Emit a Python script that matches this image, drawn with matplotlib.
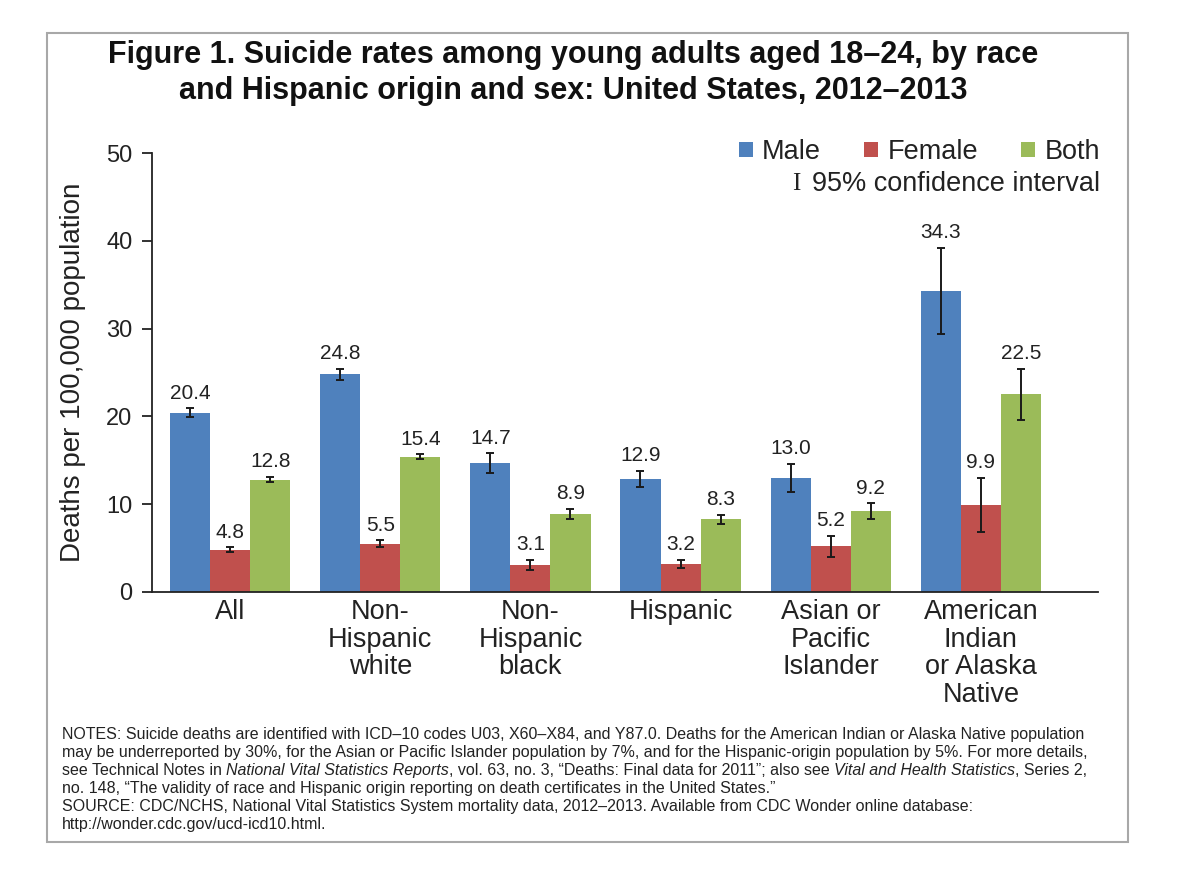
import numpy as np
import matplotlib
matplotlib.use("Agg")
import matplotlib.pyplot as plt
from matplotlib.patches import Rectangle

plt.rcParams['font.family'] = ['Liberation Sans', 'DejaVu Sans']

# data
groups = ['All', 'Non-\nHispanic\nwhite', 'Non-\nHispanic\nblack', 'Hispanic',
          'Asian or\nPacific\nIslander', 'American\nIndian\nor Alaska\nNative']
male = [20.4, 24.8, 14.7, 12.9, 13.0, 34.3]
female = [4.8, 5.5, 3.1, 3.2, 5.2, 9.9]
both = [12.8, 15.4, 8.9, 8.3, 9.2, 22.5]
# half widths of the 95% confidence intervals
male_ci = [0.5, 0.6, 1.1, 0.9, 1.6, 4.9]
female_ci = [0.3, 0.4, 0.6, 0.5, 1.2, 3.1]
both_ci = [0.3, 0.3, 0.6, 0.5, 0.9, 2.9]
series_names = ['Male', 'Female', 'Both']
colors = ['#4F81BD', '#C0504D', '#9BBB59']

title = ('Figure 1. Suicide rates among young adults aged 18\u201324, by race\n'
         'and Hispanic origin and sex: United States, 2012\u20132013')
ylabel = 'Deaths per 100,000 population'

notes = [
    [('NOTES: Suicide deaths are identified with ICD\u201310 codes U03, X60\u2013X84, and Y87.0. '
      'Deaths for the American Indian or Alaska Native population', 'normal')],
    [('may be underreported by 30%, for the Asian or Pacific Islander population by 7%, '
      'and for the Hispanic-origin population by 5%. For more details,', 'normal')],
    [('see Technical Notes in ', 'normal'),
     ('National Vital Statistics Reports', 'italic'),
     (', vol. 63, no. 3, \u201cDeaths: Final data for 2011\u201d; also see ', 'normal'),
     ('Vital and Health Statistics', 'italic'),
     (', Series 2,', 'normal')],
    [('no. 148, \u201cThe validity of race and Hispanic origin reporting on death '
      'certificates in the United States.\u201d', 'normal')],
    [('SOURCE: CDC/NCHS, National Vital Statistics System mortality data, 2012\u20132013. '
      'Available from CDC Wonder online database:', 'normal')],
    [('http://wonder.cdc.gov/ucd-icd10.html.', 'normal')],
]


def main():
    W, H = 1200, 889
    fig = plt.figure(figsize=(W / 100, H / 100), dpi=100)
    ax = fig.add_axes([152 / W, 1 - 592 / H, (1098 - 152) / W, (592 - 153) / H])
    txt_col = '#222222'

    x = np.arange(len(groups))
    width = 0.267
    all_series = [(male, male_ci), (female, female_ci), (both, both_ci)]
    handles = []
    for k, (vals, ci) in enumerate(all_series):
        pos = x + (k - 1) * width
        b = ax.bar(pos, vals, width, color=colors[k], label=series_names[k],
                   edgecolor='none', zorder=2)
        handles.append(b)
        ax.errorbar(pos, vals, yerr=ci, fmt='none', ecolor='#1a1a1a',
                    elinewidth=1.4, capsize=3.2, capthick=1.4, zorder=3)
        for px, v, e in zip(pos, vals, ci):
            ax.annotate(f'{v:.1f}', (px, v + e), xytext=(0, 4),
                        textcoords='offset points', ha='center', va='bottom',
                        fontsize=15, color=txt_col)

    ax.set_xlim(-0.52, 5.78)
    ax.set_ylim(0, 50)
    ax.set_yticks(range(0, 51, 10))
    ax.set_xticks(x)
    ax.set_xticklabels(groups, fontsize=19.5, linespacing=1.08, color=txt_col)
    ax.tick_params(axis='x', length=0, pad=5)
    ax.tick_params(axis='y', direction='out', length=7, width=1.3, pad=7,
                   labelsize=17, colors=txt_col)
    for s in ['top', 'right']:
        ax.spines[s].set_visible(False)
    for s in ['left', 'bottom']:
        ax.spines[s].set_linewidth(1.3)
        ax.spines[s].set_color(txt_col)

    fig.text(73 / W, 1 - 372.5 / H, ylabel, rotation=90, ha='center',
             va='center', fontsize=20, color=txt_col)

    fig.text(573 / W, 1 - 73 / H, title, ha='center', va='center',
             fontsize=22, fontweight='bold', linespacing=1.3, color='#111111')

    fig.legend(handles=handles, labels=series_names, loc='center right',
               bbox_to_anchor=(1100 / W, 1 - 152 / H), ncol=3, frameon=False,
               fontsize=19.5, handlelength=0.5, handleheight=0.5,
               handletextpad=0.35, columnspacing=1.6, borderpad=0,
               borderaxespad=0, labelcolor=txt_col)
    ci_txt = fig.text(1100 / W, 1 - 184 / H, '95% confidence interval',
                      ha='right', va='center', fontsize=19.5, color=txt_col)
    ax.annotate('I', xy=(0, 0.5), xycoords=ci_txt, xytext=(-8, 0),
                textcoords='offset points', ha='right', va='center',
                fontsize=18, family='Liberation Serif', color=txt_col)

    # notes block, italic titles chained after the preceding piece
    fs = 11.5
    y0 = 742
    step = 18
    for i, segs in enumerate(notes):
        yy = 1 - (y0 + i * step) / H
        last = None
        for txt, style in segs:
            if last is None:
                last = fig.text(62 / W, yy, txt, ha='left', va='bottom',
                                fontsize=fs, style=style, color=txt_col)
            else:
                last = ax.annotate(txt, xy=(1, 0), xycoords=last,
                                   ha='left', va='bottom', fontsize=fs,
                                   style=style, color=txt_col,
                                   annotation_clip=False)

    fig.patches.append(Rectangle((47 / W, 1 - 842 / H), (1128 - 47) / W,
                                 (842 - 33) / H, transform=fig.transFigure,
                                 fill=False, edgecolor='#a8a8a8', lw=1.5))

    fig.savefig('out.png', dpi=100)


if __name__ == '__main__':
    main()
